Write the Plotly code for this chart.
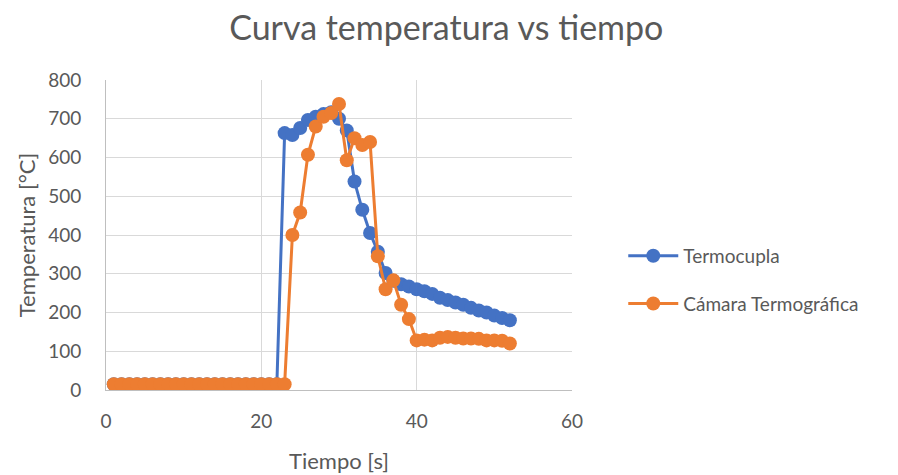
import plotly.graph_objects as go

# Time axis (s)
tiempo = list(range(1, 53))

# Thermocouple readings (°C)
termocupla = [15] * 22 + [
    663, 658, 676, 697, 705, 712, 717, 700, 670, 538,
    465, 405, 357, 302, 282, 273, 267, 260, 255, 248,
    238, 232, 226, 220, 212, 205, 200, 192, 186, 180,
]

# Thermal camera readings (°C)
camara = [15] * 23 + [
    400, 458, 607, 680, 705, 715, 738, 593, 650, 632,
    640, 345, 260, 283, 220, 183, 128, 130, 128, 135,
    137, 135, 133, 133, 132, 128, 128, 127, 120,
]

AZUL = "#4472C4"
NARANJA = "#ED7D31"
GRIS = "#595959"
FUENTE = "Lato, 'Open Sans', sans-serif"

fig = go.Figure()
fig.add_trace(go.Scatter(
    x=tiempo, y=termocupla, name="Termocupla",
    mode="lines+markers", legendgroup="a",
    line=dict(color=AZUL, width=3),
    marker=dict(color=AZUL, size=14),
))
fig.add_trace(go.Scatter(
    x=tiempo, y=camara, name="Cámara Termográfica",
    mode="lines+markers", legendgroup="b",
    line=dict(color=NARANJA, width=3),
    marker=dict(color=NARANJA, size=14),
))

fig.update_layout(
    width=898, height=475,
    margin=dict(l=106, r=326, t=80, b=85),
    paper_bgcolor="white", plot_bgcolor="white",
    font=dict(family=FUENTE, color=GRIS, size=18),
    title=dict(
        text="Curva temperatura vs tiempo",
        x=0.497, xanchor="center", y=0.94, yanchor="middle",
        font=dict(size=34, color=GRIS, family=FUENTE),
    ),
    xaxis=dict(
        title=dict(text="Tiempo [s]", font=dict(size=22, color=GRIS), standoff=22),
        automargin=False,
        range=[0, 60], dtick=20, tick0=0,
        showgrid=True, gridcolor="#D9D9D9", gridwidth=1,
        showline=True, linecolor="#BFBFBF", linewidth=1,
        zeroline=False, ticks="",
        ticklabelstandoff=14,
        tickfont=dict(size=19, color=GRIS),
    ),
    yaxis=dict(
        title=dict(text="Temperatura [°C]", font=dict(size=22, color=GRIS), standoff=6),
        automargin=False,
        range=[0, 800], dtick=100, tick0=0,
        showgrid=True, gridcolor="#D9D9D9", gridwidth=1,
        showline=True, linecolor="#BFBFBF", linewidth=1,
        zeroline=False, ticks="",
        ticklabelstandoff=20,
        tickfont=dict(size=19, color=GRIS),
    ),
    legend=dict(
        x=1.11, xanchor="left", y=0.355, yanchor="middle",
        font=dict(size=19, color=GRIS),
        itemwidth=50,
        tracegroupgap=20,
        bgcolor="rgba(0,0,0,0)",
    ),
    showlegend=True,
)

fig.write_html("out.html")
